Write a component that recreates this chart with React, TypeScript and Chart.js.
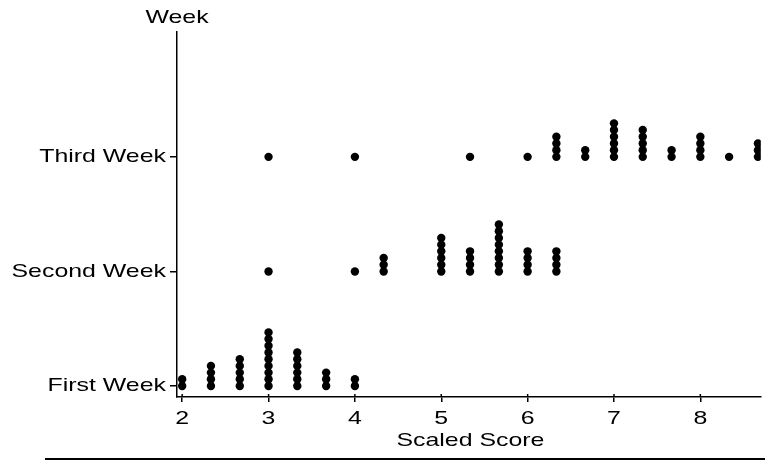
import { useEffect, useRef } from "react";
import { Chart, registerables } from "chart.js";
Chart.register(...registerables);

const weekLabels = ["First Week", "Second Week", "Third Week"];
const xTickValues = [2, 3, 4, 5, 6, 7, 8];
const xAxisTitle = "Scaled Score";
const yAxisTitle = "Week";

const firstWeekScores = [2, 2.333, 2.667, 3, 3.333, 3.667, 4];
const firstWeekCounts = [2, 4, 5, 9, 6, 3, 2];
const secondWeekScores = [3, 4, 4.333, 5, 5.333, 5.667, 6, 6.333];
const secondWeekCounts = [1, 1, 3, 6, 4, 8, 4, 4];
const thirdWeekScores = [3, 4, 5.333, 6, 6.333, 6.667, 7, 7.333, 7.667, 8, 8.333, 8.667];
const thirdWeekCounts = [1, 1, 1, 1, 4, 2, 6, 5, 2, 4, 1, 3];

const STACK_STEP = 0.0585; // vertical gap between stacked dots, in week units
const FONT = "Liberation Sans, Arial, sans-serif";
const FONT_SIZE = 19;
const STRETCH = 1.31;

function buildPoints(level: number, scores: number[], counts: number[]) {
  const pts: { x: number; y: number }[] = [];
  scores.forEach((s, i) => {
    for (let k = 0; k < counts[i]; k++) pts.push({ x: s, y: level + k * STACK_STEP });
  });
  return pts;
}

function drawStretched(ctx: CanvasRenderingContext2D, text: string, x: number, y: number, align: CanvasTextAlign) {
  ctx.save();
  ctx.translate(x, y);
  ctx.scale(STRETCH, 1);
  ctx.textAlign = align;
  ctx.textBaseline = "middle";
  ctx.fillText(text, 0, 0);
  ctx.restore();
}

const textPlugin = {
  id: "stretchedText",
  afterDraw(chart: any) {
    const ctx: CanvasRenderingContext2D = chart.ctx;
    const xs = chart.scales.x;
    const ys = chart.scales.y;
    ctx.save();
    ctx.fillStyle = "#000";
    ctx.font = `${FONT_SIZE}px ${FONT}`;
    weekLabels.forEach((lab, i) => {
      drawStretched(ctx, lab, ys.right - 11, ys.getPixelForValue(i), "right");
    });
    // short tick extension above the x axis line
    ctx.strokeStyle = "#000";
    ctx.lineWidth = 1.5;
    xTickValues.forEach((v) => {
      const px = xs.getPixelForValue(v);
      ctx.beginPath();
      ctx.moveTo(px, xs.top);
      ctx.lineTo(px, xs.top - 3);
      ctx.stroke();
      drawStretched(ctx, String(v), px, xs.top + 22, "center");
    });
    drawStretched(ctx, xAxisTitle, (xs.getPixelForValue(5) + xs.getPixelForValue(6)) / 2 - 14, xs.top + 44, "center");
    drawStretched(ctx, yAxisTitle, ys.right, 18, "center");
    // page rule at the bottom
    ctx.lineWidth = 2;
    ctx.beginPath();
    ctx.moveTo(45, 459);
    ctx.lineTo(chart.width, 459);
    ctx.stroke();
    ctx.restore();
  },
};

export default function App() {
  const ref = useRef<HTMLCanvasElement>(null);
  useEffect(() => {
    if (!ref.current) return;
    const dsStyle = {
      pointRadius: 4.2,
      pointHoverRadius: 4.2,
      pointBackgroundColor: "#000",
      pointBorderWidth: 0,
      showLine: false,
    };
    const chart = new Chart(ref.current, {
      type: "scatter",
      data: {
        datasets: [
          { label: weekLabels[0], data: buildPoints(0, firstWeekScores, firstWeekCounts), ...dsStyle },
          { label: weekLabels[1], data: buildPoints(1, secondWeekScores, secondWeekCounts), ...dsStyle },
          { label: weekLabels[2], data: buildPoints(2, thirdWeekScores, thirdWeekCounts), ...dsStyle },
        ],
      },
      options: {
        animation: false,
        responsive: false,
        layout: { padding: { top: 32, right: 0, bottom: 0, left: 0 } },
        plugins: { legend: { display: false }, tooltip: { enabled: false } },
        scales: {
          x: {
            type: "linear",
            min: 1.94,
            max: 8.7,
            afterFit: (s: any) => { s.height = 64; },
            afterBuildTicks: (s: any) => { s.ticks = xTickValues.map((v) => ({ value: v })); },
            ticks: { display: false },
            grid: { drawOnChartArea: false, drawTicks: true, tickLength: 5, color: "#000", lineWidth: 1.5 },
            border: { color: "#000", width: 1.5 },
          },
          y: {
            type: "linear",
            min: -0.096,
            max: 3.09,
            afterFit: (s: any) => { s.width = 177; },
            afterBuildTicks: (s: any) => { s.ticks = weekLabels.map((_, i) => ({ value: i })); },
            ticks: { display: false },
            grid: { drawOnChartArea: false, drawTicks: true, tickLength: 7, color: "#000", lineWidth: 1.5 },
            border: { color: "#000", width: 1.5 },
          },
        },
      },
      plugins: [textPlugin],
    });
    return () => chart.destroy();
  }, []);
  return (
    <div style={{ position: "fixed", left: 0, top: 0, width: 765, height: 461, background: "#fff" }}>
      <canvas ref={ref} width={765} height={461} style={{ display: "block" }} />
    </div>
  );
}
